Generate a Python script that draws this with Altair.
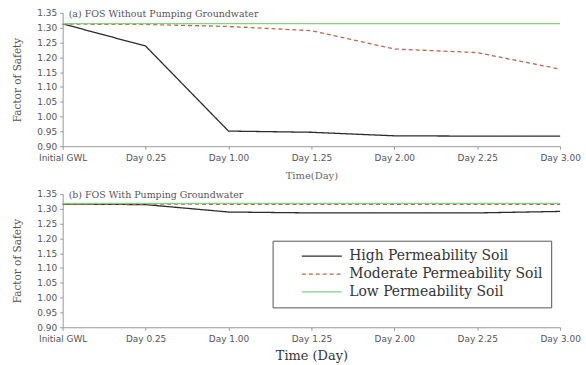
import altair as alt
import pandas as pd

times = ["Initial GWL", "Day 0.25", "Day 1.00", "Day 1.25", "Day 2.00", "Day 2.25", "Day 3.00"]
series = ["High Permeability Soil", "Moderate Permeability Soil", "Low Permeability Soil"]
colors = ["#2b2b2b", "#b8694a", "#86cf86"]
dashes = [[1, 0], [4, 3], [1, 0]]

# (a) FOS without pumping groundwater
a_high = [1.313, 1.238, 0.951, 0.947, 0.935, 0.934, 0.934]
a_mod = [1.312, 1.311, 1.304, 1.290, 1.228, 1.216, 1.160]
a_low = [1.314, 1.314, 1.314, 1.314, 1.314, 1.314, 1.314]

# (b) FOS with pumping groundwater
b_high = [1.316, 1.314, 1.289, 1.286, 1.286, 1.286, 1.291]
b_mod = [1.316, 1.316, 1.315, 1.315, 1.315, 1.315, 1.315]
b_low = [1.318, 1.318, 1.318, 1.318, 1.318, 1.318, 1.318]

y_ticks = [0.90, 0.95, 1.00, 1.05, 1.10, 1.15, 1.20, 1.25, 1.30, 1.35]
panel_titles = ["(a) FOS Without Pumping Groundwater", "(b) FOS With Pumping Groundwater"]

SERIF = "DejaVu Serif"
SANS = "DejaVu Sans"


def frame(high, mod, low):
    rows = []
    for s, vals in zip(series, [high, mod, low]):
        for t, v in zip(times, vals):
            rows.append({"time": t, "series": s, "fos": v})
    return pd.DataFrame(rows)


def panel(df, title, xtitle, xtitle_size, xtitle_color, xtitle_pad, show_legend):
    if show_legend:
        legend = alt.Legend(
            title=None,
            orient="none",
            legendX=211,
            legendY=47,
            strokeColor="#555555",
            fillColor="white",
            padding=8,
            symbolType="M-3,0H3",
            symbolSize=180,
            symbolStrokeWidth=1.3,
            symbolOffset=34,
            labelOffset=20,
            rowPadding=3,
            labelFont=SERIF,
            labelFontSize=14,
            labelColor="#333333",
            labelLimit=400,
        )
    else:
        legend = None
    x = alt.X(
        "time:N",
        sort=times,
        scale=alt.Scale(type="point", padding=0),
        axis=alt.Axis(
            title=xtitle,
            labelAngle=0,
            titleFont=SERIF,
            titleFontSize=xtitle_size,
            titleFontWeight="normal",
            titleColor=xtitle_color,
            titlePadding=xtitle_pad,
        ),
    )
    y = alt.Y(
        "fos:Q",
        scale=alt.Scale(domain=[0.90, 1.35], nice=False, zero=False),
        axis=alt.Axis(values=y_ticks, format=".2f", title="Factor of Safety"),
    )
    lines = alt.Chart(df).mark_line(strokeWidth=1.3).encode(
        x=x,
        y=y,
        color=alt.Color("series:N", sort=series, scale=alt.Scale(domain=series, range=colors), legend=legend),
        strokeDash=alt.StrokeDash("series:N", sort=series, scale=alt.Scale(domain=series, range=dashes), legend=legend),
    )
    label = alt.Chart(pd.DataFrame({"t": [title]})).mark_text(
        align="left", baseline="middle", font=SERIF, fontSize=9.5, color="#555555"
    ).encode(x=alt.value(6), y=alt.value(1), text="t:N")
    return alt.layer(lines, label).properties(width=500, height=134)


top = panel(frame(a_high, a_mod, a_low), panel_titles[0], "Time(Day)", 10, "#666666", 8, False)
bottom = panel(frame(b_high, b_mod, b_low), panel_titles[1], "Time (Day)", 13, "#333333", 6, True)

chart = (
    alt.vconcat(top, bottom, spacing=10)
    .resolve_scale(color="independent", strokeDash="independent")
    .resolve_legend(color="independent", strokeDash="independent")
    .properties(padding={"left": 12, "top": 8, "right": 5, "bottom": 5})
    .configure_view(stroke=None)
    .configure_axis(
        grid=False,
        labelFont=SANS,
        labelFontSize=9,
        labelColor="#555555",
        domainColor="#999999",
        tickColor="#999999",
        tickSize=3,
        labelPadding=4,
        titleFont=SERIF,
        titleFontWeight="normal",
    )
    .configure_axisY(titleFontSize=10.5, titleColor="#555555", titlePadding=14, labelPadding=3)
)

chart.save("out.html", embed_options={"renderer": "svg", "actions": False})
